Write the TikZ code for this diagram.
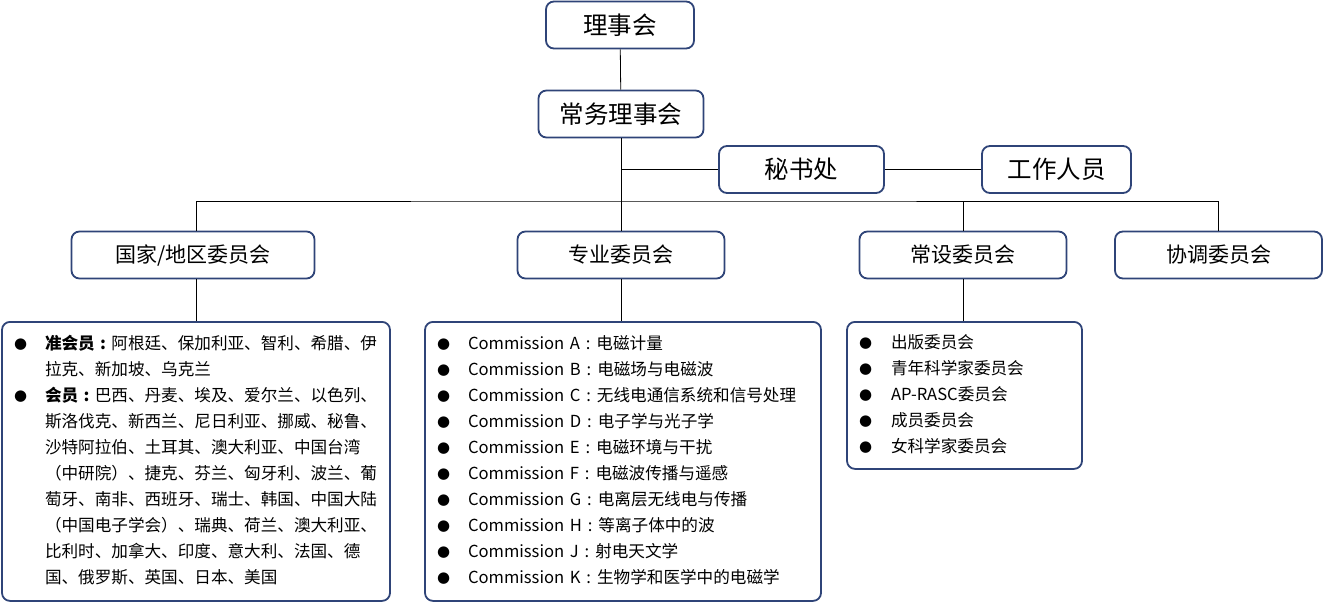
\documentclass[tikz,border=0pt]{standalone}
\usepackage{fontspec}
\setmainfont{Noto Sans CJK SC}
\newfontfamily\symfont{DejaVu Sans}
\usepackage{tikz}
\usetikzlibrary{positioning,calc}
\definecolor{boxblue}{RGB}{47,68,120}
\newcommand{\bul}{\raisebox{0.8pt}{\symfont\fontsize{15}{15}\selectfont ●}}
\newcommand{\cc}{\makebox[1em]{:}}

\begin{document}
\begin{tikzpicture}[
  x=1pt, y=-1pt,
  box/.style={rectangle, rounded corners=8pt, draw=boxblue, line width=1.8pt, fill=white, align=center},
  topbox/.style={box, font=\fontsize{24.5}{28}\selectfont, minimum height=47pt},
  midbox/.style={box, font=\fontsize{21}{24}\selectfont, minimum height=47pt},
  listbox/.style={box, anchor=north, font=\fontsize{16.6}{26}\selectfont, align=left, inner xsep=12pt, inner ysep=0pt},
  ln/.style={draw=black, line width=0.8pt}
]
  \useasboundingbox (0,0) rectangle (1325,602);

  % top of the chart
  \node[topbox, minimum width=148pt] (board) at (620,25) {理事会};
  \node[topbox, minimum width=165pt] (exec) at (621,114) {常务理事会};
  \node[topbox, minimum width=165pt] (sec) at (801.5,169.5) {秘书处};
  \node[topbox, minimum width=149pt] (staff) at (1056.5,169.5) {工作人员};

  % committees
  \node[midbox, minimum width=243pt] (nat) at (193,255) {国家/地区委员会};
  \node[midbox, minimum width=207pt] (prof) at (621,255) {专业委员会};
  \node[midbox, minimum width=207pt] (std) at (963,255) {常设委员会};
  \node[midbox, minimum width=207pt] (coord) at (1218.5,255) {协调委员会};
  \coordinate (bus) at (621,201);

  % lists
  \node[listbox, text width=364pt, minimum height=279pt] (natlist) at (196,321) {%
    \begin{tabular}{@{}p{31pt}@{}l@{}}
      \bul & \textbf{准会员\cc}阿根廷、保加利亚、智利、希腊、伊\\
           & 拉克、新加坡、乌克兰\\
      \bul & \textbf{会员\cc}巴西、丹麦、埃及、爱尔兰、以色列、\\
           & 斯洛伐克、新西兰、尼日利亚、挪威、秘鲁、\\
           & 沙特阿拉伯、土耳其、澳大利亚、中国台湾\\
           & （中研院）、捷克、芬兰、匈牙利、波兰、葡\\
           & 萄牙、南非、西班牙、瑞士、韩国、中国大陆\\
           & （中国电子学会）、瑞典、荷兰、澳大利亚、\\
           & 比利时、加拿大、印度、意大利、法国、德\\
           & 国、俄罗斯、英国、日本、美国
    \end{tabular}};
  \node[listbox, text width=372pt, minimum height=279pt] (proflist) at (623,321) {%
    \begin{tabular}{@{}p{31pt}@{}l@{}}
      \bul & Commission A\cc 电磁计量\\
      \bul & Commission B\cc 电磁场与电磁波\\
      \bul & Commission C\cc 无线电通信系统和信号处理\\
      \bul & Commission D\cc 电子学与光子学\\
      \bul & Commission E\cc 电磁环境与干扰\\
      \bul & Commission F\cc 电磁波传播与遥感\\
      \bul & Commission G\cc 电离层无线电与传播\\
      \bul & Commission H\cc 等离子体中的波\\
      \bul & Commission J\cc 射电天文学\\
      \bul & Commission K\cc 生物学和医学中的电磁学
    \end{tabular}};
  \node[listbox, text width=211pt, minimum height=147pt] (stdlist) at (964.5,321) {%
    \begin{tabular}{@{}p{32pt}@{}l@{}}
      \bul & 出版委员会\\
      \bul & 青年科学家委员会\\
      \bul & AP-RASC委员会\\
      \bul & 成员委员会\\
      \bul & 女科学家委员会
    \end{tabular}};

  % connectors
  \draw[ln] (board) -- (exec);
  \draw[ln] (exec) -- (prof);
  \draw[ln] (exec.south |- sec.west) -- (sec.west);
  \draw[ln] (sec) -- (staff);
  \draw[ln] (natlist.north |- nat.north) |- (bus) -| (coord.north);
  \draw[ln] (std.north) -- (std.north |- bus);
  \draw[ln] (natlist.north |- nat.south) -- (natlist.north);
  \draw[ln] (prof) -- (prof.south |- proflist.north);
  \draw[ln] (std) -- (std.south |- stdlist.north);
\end{tikzpicture}
\end{document}
